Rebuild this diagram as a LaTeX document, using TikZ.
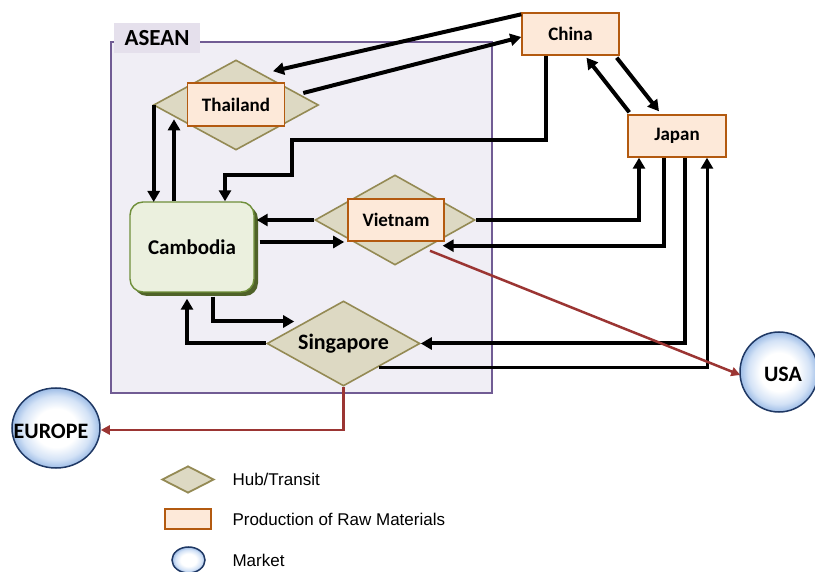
\documentclass[tikz,border=0pt]{standalone}
\usepackage{fontspec}
\setmainfont{Carlito}
\newfontfamily\arialfont{Liberation Sans}
\usetikzlibrary{shapes.geometric,arrows.meta,calc}
\definecolor{boxfill}{HTML}{F0EEF5}
\definecolor{boxline}{HTML}{715C94}
\definecolor{tabfill}{HTML}{E5E0EC}
\definecolor{hubfill}{HTML}{DDD9C3}
\definecolor{hubline}{HTML}{948A54}
\definecolor{prodfill}{HTML}{FDE9D9}
\definecolor{prodline}{HTML}{B35A10}
\definecolor{cambfill}{HTML}{EBF0DE}
\definecolor{cambline}{HTML}{6F8F3A}
\definecolor{cambshadow}{HTML}{4F6228}
\definecolor{mktline}{HTML}{1F3864}
\definecolor{mktmid}{HTML}{D3E2F6}
\definecolor{mktouter}{HTML}{9DBCE6}
\definecolor{redline}{HTML}{9B3533}
\pgfdeclareradialshading{mktshade}{\pgfpoint{0bp}{0bp}}{color(0bp)=(white); color(12bp)=(white); color(20bp)=(mktmid); color(25bp)=(mktouter); color(50bp)=(mktouter)}
\tikzset{
  hub/.style={diamond, draw=hubline, fill=hubfill, line width=1.6pt, inner sep=0pt},
  prod/.style={rectangle, draw=prodline, fill=prodfill, line width=1.4pt, inner sep=0pt, font=\bfseries\fontsize{19}{22}\selectfont},
  market/.style={ellipse, draw=mktline, line width=1.5pt, inner sep=0pt, shading=mktshade},
  mkttext/.style={inner sep=0pt, font=\bfseries\fontsize{22}{25}\selectfont},
  arr/.style={line width=4pt, -{Triangle[length=11pt,width=12pt]}},
  thinarr/.style={line width=3pt, -{Triangle[length=11pt,width=12pt]}},
  redarr/.style={line width=2.5pt, draw=redline, -{Triangle[length=9pt,width=9pt]}},
  legtext/.style={anchor=west, font=\arialfont\fontsize{17}{19}\selectfont}
}
\begin{document}
\begin{tikzpicture}[x=1pt,y=-1pt]
\useasboundingbox (0,0) rectangle (815,572);
% ASEAN region
\node[draw=boxline, fill=boxfill, line width=1.6pt, minimum width=381pt, minimum height=351pt, inner sep=0pt] (asean) at (301.5,217.5) {};
\node[fill=tabfill, minimum width=86pt, minimum height=30pt, inner sep=0pt, font=\bfseries\fontsize{23}{26}\selectfont] (tab) at (157,38) {ASEAN};
% nodes
\node[hub, minimum width=165pt, minimum height=90pt] (thaiD) at (236,105) {};
\node[prod, minimum width=97pt, minimum height=43pt] (thai) at (236,104.5) {Thailand};
\node[prod, minimum width=97pt, minimum height=42pt] (china) at (570.5,34) {China};
\node[prod, minimum width=98pt, minimum height=42pt] (japan) at (677,136) {Japan};
\node[hub, minimum width=160pt, minimum height=90pt] (vietD) at (395,220) {};
\node[prod, minimum width=96pt, minimum height=42pt] (viet) at (396,220) {Vietnam};
\node[rectangle, rounded corners=13pt, fill=cambshadow, minimum width=124pt, minimum height=90pt] (cambsh) at (196,251) {};
\node[rectangle, rounded corners=13pt, draw=cambline, fill=cambfill, line width=1.4pt, minimum width=124pt, minimum height=90pt, inner sep=0pt, font=\bfseries\fontsize{21}{24}\selectfont] (camb) at (192,247) {Cambodia};
\node[hub, minimum width=153pt, minimum height=85pt] (sing) at (343.5,343.5) {};
\node[inner sep=0pt, font=\bfseries\fontsize{22}{25}\selectfont] (singT) at (343.5,343.5) {Singapore};
\node[market, minimum width=78pt, minimum height=80pt] (usa) at (779,372) {};
\node[mkttext] (usaT) at (783,374) {USA};
\node[market, minimum width=88pt, minimum height=80pt] (europe) at (56,428) {};
\node[mkttext] (europeT) at (51,431) {EUROPE};
% connectors
\draw[arr] ($(china.north west)+(0,2)$) -- ($(thaiD.north)+(37,12)$);
\draw[arr] ($(thaiD.east)+(-16,-12)$) -- ($(china.west)+(0,3)$);
\draw[arr] ($(china.south)+(-25,0)$) |- (292,140) |- (225,175) -- ($(camb.north)+(33,0)$);
\draw[arr] ($(thaiD.west)+(1,0)$) -- ($(thaiD.west)+(1,97)$);
\draw[arr] ($(camb.north)+(-18,0)$) -- ($(camb.north)+(-18,-82)$);
\draw[arr] (vietD.west) -- ($(camb.east |- vietD.west)+(2,0)$);
\draw[arr] ($(camb.east)+(5,-5)$) -- ($(vietD.west)+(30,22)$);
\draw[arr] (vietD.east) -| ($(japan.south)+(-38,0)$);
\draw[arr] ($(japan.south)+(-13,0)$) |- ($(viet.south east)+(-2,4)$);
\draw[arr] ($(japan.south)+(8,0)$) |- (sing.east);
\draw[thinarr] ($(sing.east)+(-42,24)$) -| ($(japan.south)+(30,0)$);
\draw[arr] ($(china.south east)+(-3,2)$) -- ($(japan.north)+(-18,-3)$);
\draw[arr] ($(japan.north west)+(2,-2)$) -- ($(china.south)+(16,2)$);
\draw[arr] ($(camb.south)+(21,4)$) |- ($(sing.west)+(28,-22)$);
\draw[arr] (sing.west) -| ($(camb.south)+(-5,6)$);
\draw[redarr] ($(vietD.south)+(35,-15)$) -- ($(usa.west)+(1,3)$);
\draw[redarr] (sing.south) |- ($(europe.east)+(0,2)$);
% legend
\node[hub, minimum width=52pt, minimum height=27pt, line width=1.8pt] (lhub) at (188,479.5) {};
\node[legtext] (lhubt) at (229,479.5) {Hub/Transit};
\node[prod, minimum width=46pt, minimum height=20pt] (lprod) at (188,519) {};
\node[legtext] (lprodt) at (229,519) {Production of Raw Materials};
\node[market, minimum width=33pt, minimum height=26pt] (lmkt) at (188.5,560) {};
\node[legtext] (lmktt) at (229,560) {Market};
\end{tikzpicture}
\end{document}
